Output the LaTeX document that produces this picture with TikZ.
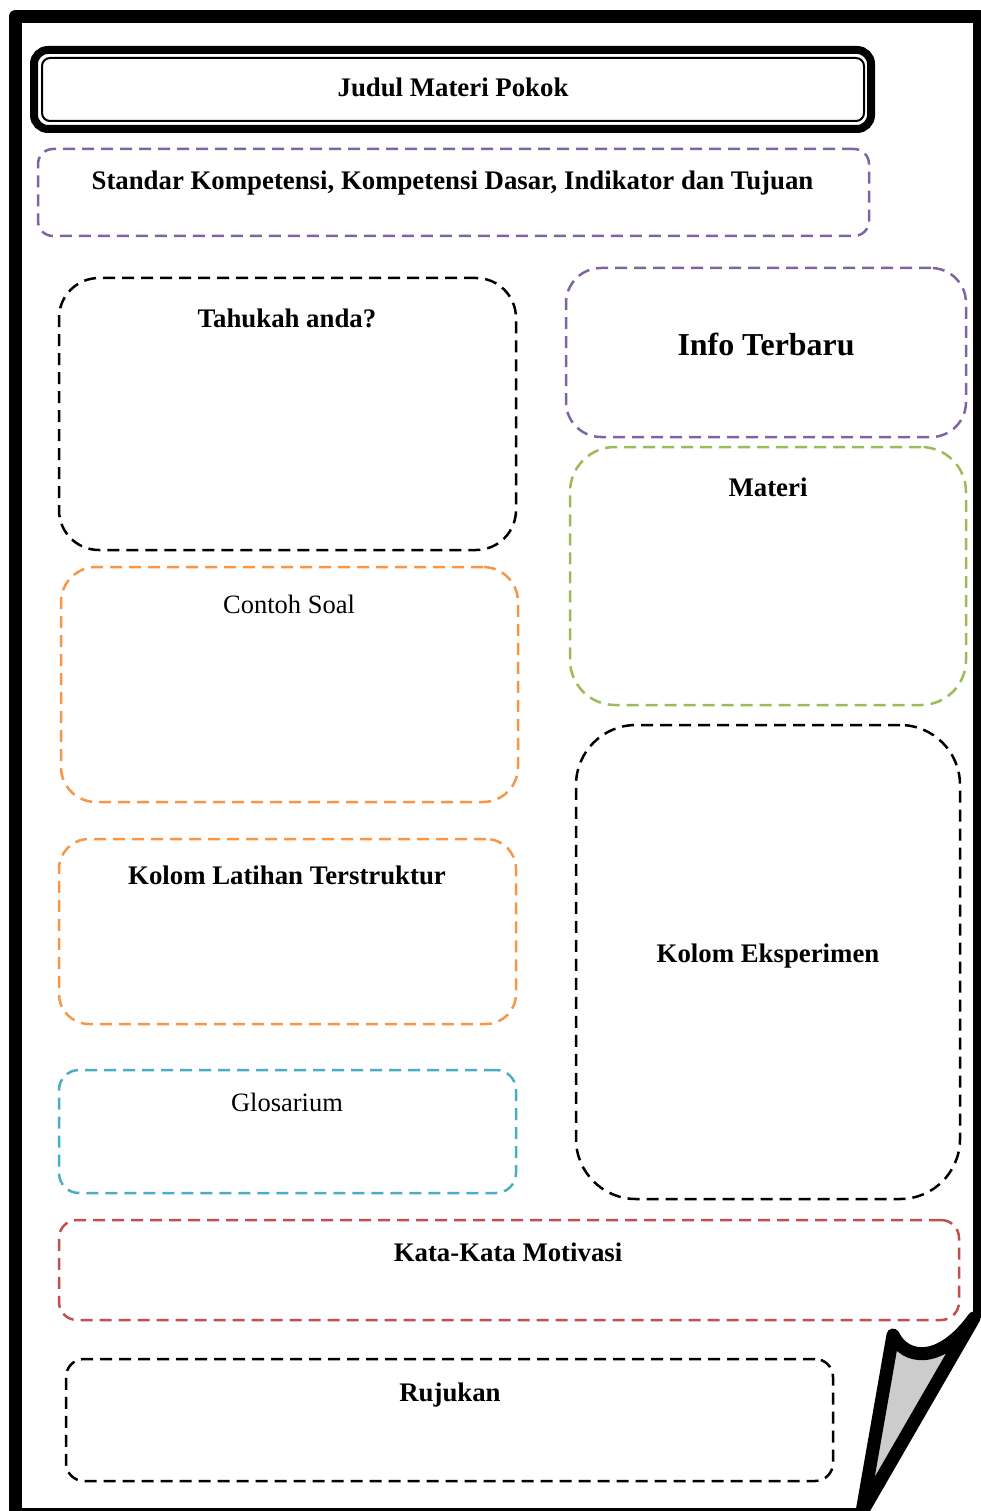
\documentclass[tikz,border=0pt]{standalone}
\usepackage{fontspec}
\setmainfont{Liberation Serif}
\definecolor{purp}{HTML}{8064A2}
\definecolor{grn}{HTML}{9BBB59}
\definecolor{orng}{HTML}{F79646}
\definecolor{blu}{HTML}{4BACC6}
\definecolor{redc}{HTML}{C0504D}
\begin{document}
\begin{tikzpicture}[x=1pt,y=-1pt,
  box/.style={draw, dash pattern=on 12pt off 7pt, line width=2.5pt, inner sep=0pt, outer sep=0pt},
  lbl/.style={anchor=base, inner sep=0pt, font=\fontsize{26.8}{30}\selectfont\bfseries},
  lblr/.style={anchor=base, inner sep=0pt, font=\fontsize{26.5}{30}\selectfont},
  lblbig/.style={anchor=base, inner sep=0pt, font=\fontsize{31.9}{36}\selectfont\bfseries},
  frame/.style={line width=13pt, line join=round}
]
\useasboundingbox (0,0) rectangle (980,1511);

% page frame
\draw[frame] (864,1514) -- (15.5,1514) -- (15.5,16.5) -- (979.5,16.5) -- (979.5,1318);
% page curl
\draw[frame, fill=black!20] (893,1335) .. controls (905,1360) and (940,1365) .. (974,1318) -- (862,1512) -- cycle;

% title
\node[draw, line width=8pt, rounded corners=14pt, inner sep=0pt, outer sep=0pt, minimum width=837pt, minimum height=79pt] (titleout) at (452.5,89.5) {};
\node[draw, line width=2pt, rounded corners=8pt, inner sep=0pt, outer sep=0pt, minimum width=822pt, minimum height=63pt] (titlein) at (453,89.5) {};
\node[lbl] (judul) at (453,97) {Judul Materi Pokok};

% boxes
\node[box, draw=purp, rounded corners=15pt, minimum width=831pt, minimum height=87pt] (std) at (453.5,192.5) {};
\node[lbl] (stdt) at (452.5,190) {Standar Kompetensi, Kompetensi Dasar, Indikator dan Tujuan};

\node[box, draw=black, rounded corners=40pt, minimum width=457pt, minimum height=272pt] (tah) at (287.5,414) {};
\node[lbl] (taht) at (287,327) {Tahukah anda?};

\node[box, draw=purp, rounded corners=35pt, minimum width=400pt, minimum height=169pt] (info) at (766,352.5) {};
\node[lblbig] (infot) at (766,355.5) {Info Terbaru};

\node[box, draw=grn, rounded corners=45pt, minimum width=396pt, minimum height=258pt] (mat) at (768,576) {};
\node[lbl] (matt) at (768,496) {Materi};

\node[box, draw=orng, rounded corners=35pt, minimum width=457pt, minimum height=235pt] (con) at (289.5,684.5) {};
\node[lblr] (cont) at (289,613) {Contoh Soal};

\node[box, draw=black, rounded corners=60pt, minimum width=384pt, minimum height=474pt] (eks) at (768,962) {};
\node[lbl] (ekst) at (768,962) {Kolom Eksperimen};

\node[box, draw=orng, rounded corners=30pt, minimum width=457pt, minimum height=185pt] (lat) at (287.5,931.5) {};
\node[lbl] (latt) at (287,884) {Kolom Latihan Terstruktur};

\node[box, draw=blu, rounded corners=20pt, minimum width=457pt, minimum height=123pt] (glo) at (287.5,1131.5) {};
\node[lblr] (glot) at (287,1111) {Glosarium};

\node[box, draw=redc, rounded corners=18pt, minimum width=900pt, minimum height=100pt] (kat) at (509,1270) {};
\node[lbl] (katt) at (508,1261) {Kata-Kata Motivasi};

\node[box, draw=black, rounded corners=18pt, minimum width=767pt, minimum height=122pt] (ruj) at (449.5,1420) {};
\node[lbl] (rujt) at (450,1401) {Rujukan};
\end{tikzpicture}
\end{document}
